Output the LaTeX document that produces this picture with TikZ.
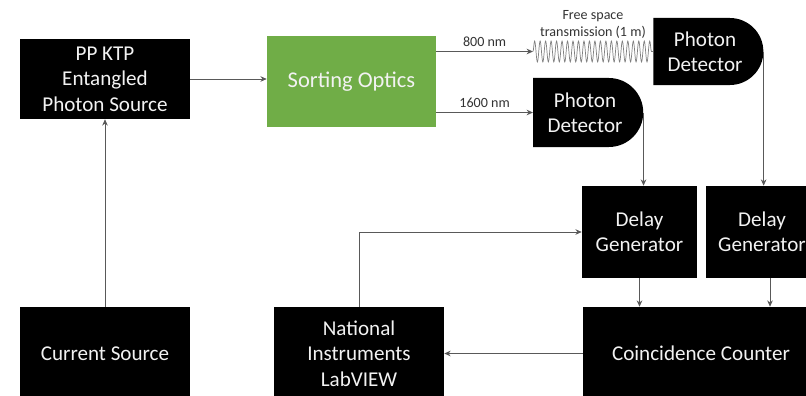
\documentclass[tikz,border=0pt]{standalone}
\usepackage{fontspec}
\setmainfont{Carlito}
\usepackage{xcolor}
\definecolor{optgreen}{HTML}{70AD47}
\definecolor{wiregray}{HTML}{595959}
\definecolor{boxtext}{HTML}{F2F2F2}
\usepackage{tikz}
\usetikzlibrary{
  arrows.meta,
  positioning,
  shapes.misc,
  calc,
  decorations.pathmorphing,
}

\begin{document}
\begin{tikzpicture}[
  x=0.025cm, y=-0.025cm,
  box/.style={
    fill=black, text=boxtext, align=center, inner sep=0pt,
    font=\fontsize{15}{18}\selectfont,
  },
  sensor/.style={
    box, rounded rectangle, rounded rectangle west arc=none,
  },
  flow/.style={
    draw=wiregray, line width=0.6pt, -{Stealth[length=4.5pt,width=4pt]},
  },
  lbl/.style={
    font=\fontsize{10}{12}\selectfont, text=black!80, align=center,
  },
]
  \useasboundingbox (0,0) rectangle (806,395);
  \clip (0,0) rectangle (806,395);

  % Source side
  \node[box, minimum width=4.25cm, minimum height=2cm] (src) at (105,79)
    {PP KTP\\Entangled\\Photon Source};
  \node[box, fill=optgreen, text=boxtext, minimum width=4.225cm, minimum height=2.275cm,
    font=\fontsize{16}{19}\selectfont] (sort) at (351.5,81.5) {Sorting Optics};

  % Detectors
  \node[sensor, minimum width=2.75cm, minimum height=1.675cm] (det1) at (705,51.5)
    {Photon\\Detector};
  \node[sensor, minimum width=2.75cm, minimum height=1.725cm] (det2) at (585,112.5)
    {Photon\\Detector};
  \coordinate (wv) at (det2.west |- det1.west);

  % Electronics
  \node[box, minimum width=2.875cm, minimum height=2.3cm] (dg1) at (639.5,232)
    {Delay\\Generator};
  \node[box, minimum width=2.8cm, minimum height=2.3cm] (dg2) at (762,232)
    {Delay\\Generator};
  \node[box, minimum width=5.9cm, minimum height=2.325cm] (cc) at (701,353.5)
    {Coincidence Counter};
  \node[box, minimum width=4.25cm, minimum height=2.325cm] (ni) at (359,353.5)
    {National\\Instruments\\LabVIEW};
  \node[box, minimum width=4.25cm, minimum height=2.325cm] (cur) at (105,353.5)
    {Current Source};

  % Optical path
  \draw[flow] (cur.north) -- (src.south);
  \draw[flow] (src.east) -- (src.east -| sort.west);
  \draw[flow] (sort.east |- wv) -- node[lbl, above] {800 nm} (wv);
  \draw[draw=gray, line width=0.5pt,
    decorate, decoration={snake, amplitude=2.6mm, segment length=1.37mm}]
    (wv) -- node[lbl, above=2mm] {Free space\\transmission (1 m)} (det1.west);
  \draw[flow] (sort.east |- det2.west) -- node[lbl, above] {1600 nm} (det2.west);

  % Signal path
  \draw[flow] (det2.east) -- (det2.east |- dg1.north);
  \draw[flow] (det1.east) -- (det1.east |- dg2.north);
  \draw[flow] (dg1.south) -- (dg1.south |- cc.north);
  \draw[flow] ([xshift=0.2cm]dg2.south) -- ([xshift=0.2cm]dg2.south |- cc.north);
  \draw[flow] (cc.west) -- (ni.east);
  \draw[flow] (ni.north) |- (dg1.west);
\end{tikzpicture}
\end{document}
